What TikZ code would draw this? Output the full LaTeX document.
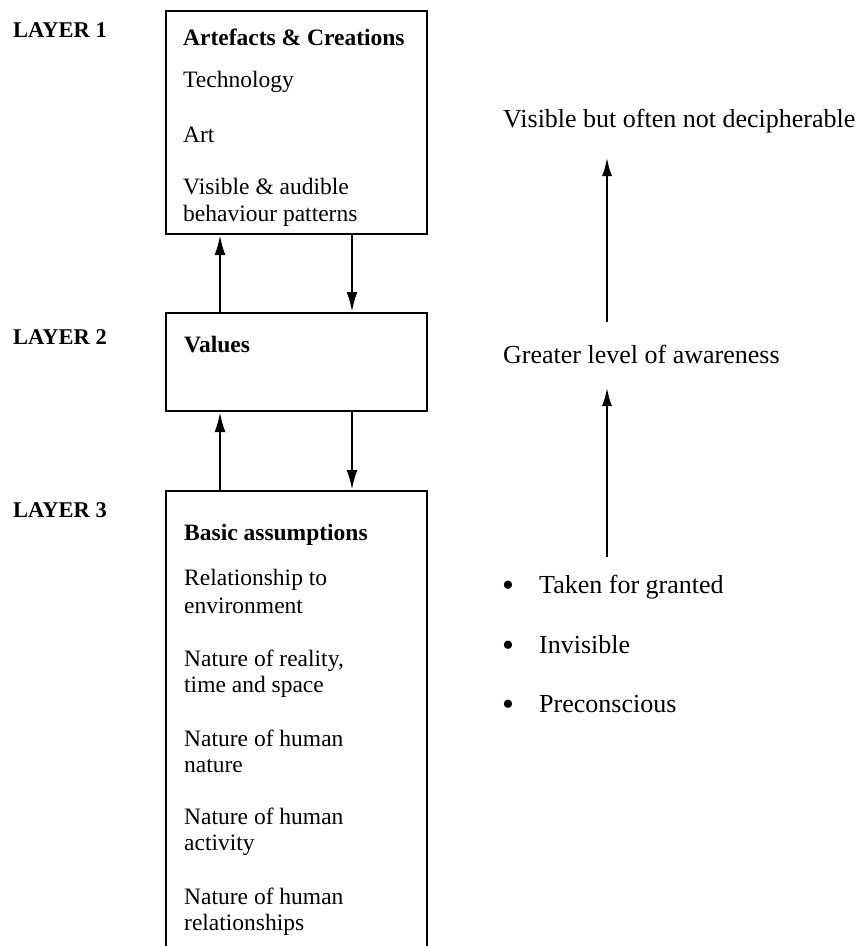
\documentclass[tikz,border=0pt]{standalone}
\usepackage{fontspec}
\setmainfont{Liberation Serif}
\usetikzlibrary{arrows.meta}
\begin{document}
\begin{tikzpicture}[x=1pt,y=-1pt,
  box/.style={draw,line width=2pt,minimum width=261pt,anchor=north west,inner sep=0pt},
  txt/.style={anchor=base west,inner sep=0pt,font=\fontsize{23.5}{27}\selectfont},
  boxhead/.style={anchor=base west,inner sep=0pt,font=\fontsize{23.5}{27}\selectfont\bfseries},
  layer/.style={anchor=base west,inner sep=0pt,font=\fontsize{22.5}{26}\selectfont\bfseries},
  note/.style={anchor=base west,inner sep=0pt,font=\fontsize{26}{30}\selectfont},
  dot/.style={anchor=base,inner sep=0pt,font=\fontsize{34}{30}\selectfont},
  link/.style={line width=2.5pt,-{Latex[length=20pt,width=11pt]}},
  rise/.style={line width=2.7pt,-{Latex[length=19pt,width=10pt]}}]
\useasboundingbox (0,0) rectangle (860,946);

% layer labels
\node[layer] (l1) at (13,37) {LAYER 1};
\node[layer] (l2) at (13,344) {LAYER 2};
\node[layer] (l3) at (13,517) {LAYER 3};

% the three boxes (the last one runs off the page)
\node[box,minimum height=223pt] (b1) at (165,10) {};
\node[box,minimum height=98pt] (b2) at (165,312) {};
\node[box,minimum height=480pt] (b3) at (165,490) {};

% box 1 contents
\node[boxhead] (t11) at (183,45) {Artefacts \& Creations};
\node[txt] (t12) at (183,87) {Technology};
\node[txt] (t13) at (183,142) {Art};
\node[txt] (t14) at (183,194) {Visible \& audible};
\node[txt] (t15) at (183,221) {behaviour patterns};

% box 2 contents
\node[boxhead] (t21) at (184,352) {Values};

% box 3 contents
\node[boxhead] (t31) at (184,540) {Basic assumptions};
\node[txt] (t32) at (184,585) {Relationship to};
\node[txt] (t33) at (184,613) {environment};
\node[txt] (t34) at (184,666) {Nature of reality,};
\node[txt] (t35) at (184,692) {time and space};
\node[txt] (t36) at (184,746) {Nature of human};
\node[txt] (t37) at (184,772) {nature};
\node[txt] (t38) at (184,824) {Nature of human};
\node[txt] (t39) at (184,850) {activity};
\node[txt] (t40) at (184,904) {Nature of human};
\node[txt] (t41) at (184,930) {relationships};

% arrows between the boxes
\coordinate (xup) at (220,0);
\coordinate (xdn) at (352,0);
\draw[link] (xup |- b2.north) -- (xup |- b1.south);
\draw[link] (xdn |- b1.south) -- (xdn |- b2.north);
\draw[link] (xup |- b3.north) -- (xup |- b2.south);
\draw[link] (xdn |- b2.south) -- (xdn |- b3.north);

% awareness scale on the right
\node[note] (vis) at (503,127) {Visible but often not decipherable};
\node[note] (grt) at (503,363) {Greater level of awareness};
\node[dot] (p1) at (508,596) {•};
\node[dot] (p2) at (508,656) {•};
\node[dot] (p3) at (508,715) {•};
\node[note] (q1) at (539,593) {Taken for granted};
\node[note] (q2) at (539,653) {Invisible};
\node[note] (q3) at (539,712) {Preconscious};

\coordinate (r1s) at (607,322);
\coordinate (r1e) at (607,157);
\coordinate (r2s) at (607,557);
\coordinate (r2e) at (607,387);
\draw[rise] (r1s) -- (r1e);
\draw[rise] (r2s) -- (r2e);
\end{tikzpicture}
\end{document}
